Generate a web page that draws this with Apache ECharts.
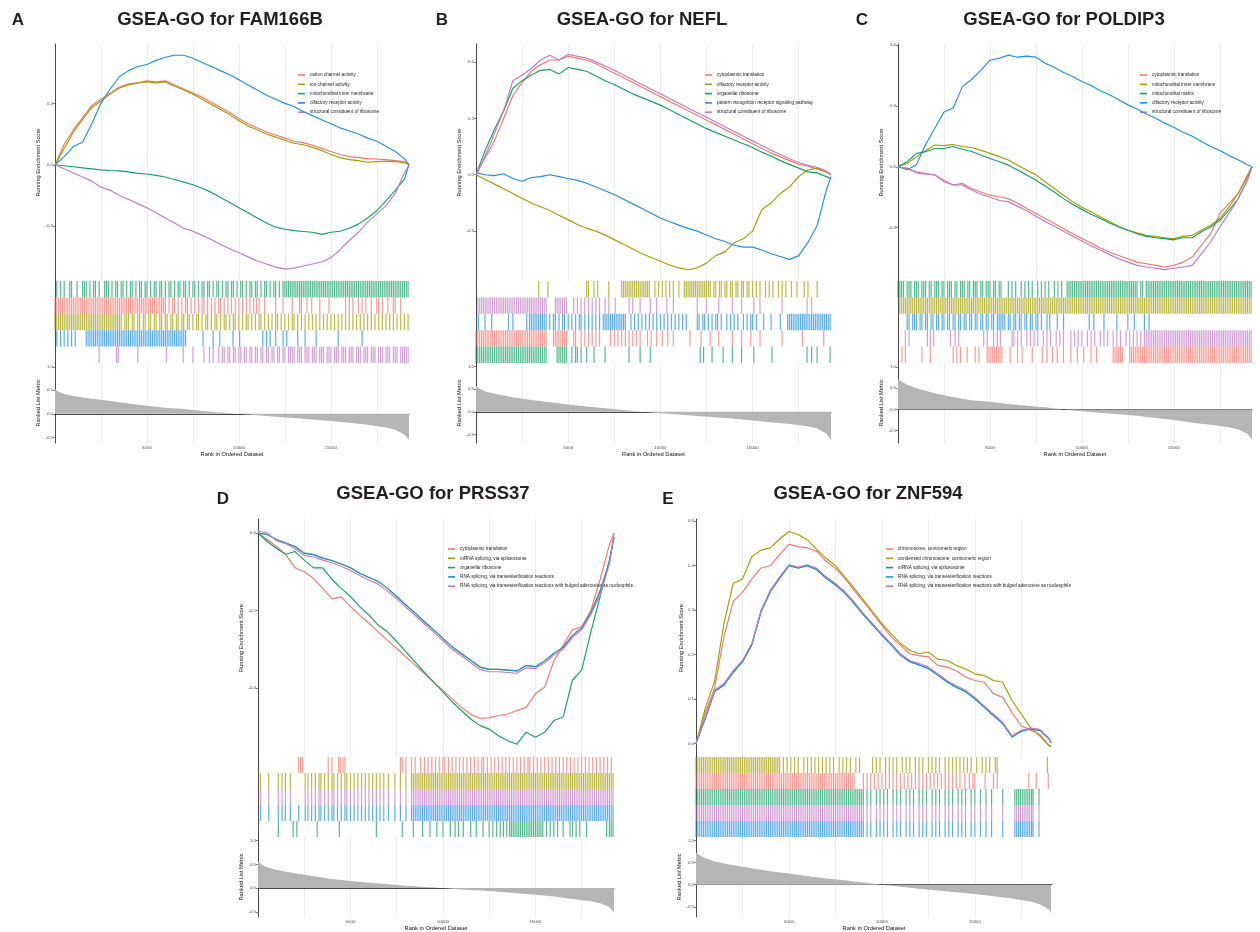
<!DOCTYPE html>
<html><head><meta charset="utf-8">
<script src="https://cdn.jsdelivr.net/npm/echarts@6/dist/echarts.min.js"></script>
<style>html,body{margin:0;padding:0;background:#fff}#c{width:1260px;height:932px}</style>
</head><body><div id="c"></div>
<script>
// ---------------- DATA ----------------
const RANKS = [0,500,1000,1500,2000,2500,3000,3500,4000,4500,5000,5500,6000,6500,7000,7500,8000,8500,9000,9500,10000,10500,11000,11500,12000,12500,13000,13500,14000,14500,15000,15500,16000,16500,17000,17500,18000,18500,19000,19250];
const RANKS_E = [0,500,1000,1500,2000,2500,3000,3500,4000,4500,5000,5500,6000,6500,7000,7500,8000,8500,9000,9500,10000,10500,11000,11500,12000,12500,13000,13500,14000,14500,15000,15500,16000,16500,17000,17500,18000,18500,19000,19100];
const M_RANKS = [0,250,500,1000,2000,3000,4000,5000,6000,7000,8000,9000,10000,11000,12000,13000,14000,15000,16000,17000,18000,18500,19000,19250];
const M_RANKS_E = [0,250,500,1000,2000,3000,4000,5000,6000,7000,8000,9000,10000,11000,12000,13000,14000,15000,16000,17000,18000,18500,19000,19100];
const HIT_UNIT = 100; // hit positions below are given in hundreds of ranks

const TITLES = ['GSEA-GO for FAM166B','GSEA-GO for NEFL','GSEA-GO for POLDIP3','GSEA-GO for PRSS37','GSEA-GO for ZNF594'];
const LETTERS = ['A','B','C','D','E'];
const X_LABELS = [5000,10000,15000];

// Panel A
const A_TERMS = ['cation channel activity','ion channel activity','mitochondrial inner membrane','olfactory receptor activity','structural constituent of ribosome'];
const A_ES_1 = [0,0.10,0.17,0.23,0.29,0.32,0.35,0.38,0.395,0.40, 0.41,0.405,0.41,0.39,0.37,0.35,0.33,0.305,0.28,0.255, 0.225,0.20,0.18,0.16,0.145,0.13,0.115,0.108,0.095,0.08, 0.065,0.05,0.04,0.035,0.03,0.028,0.025,0.02,0.015,0];
const A_ES_2 = [0,0.08,0.16,0.22,0.28,0.31,0.345,0.375,0.39,0.40, 0.405,0.40,0.405,0.385,0.365,0.345,0.32,0.295,0.27,0.245, 0.215,0.19,0.17,0.15,0.135,0.12,0.105,0.098,0.085,0.07, 0.05,0.035,0.025,0.02,0.012,0.015,0.018,0.015,0.01,0];
const A_ES_3 = [0,-0.005,-0.01,-0.015,-0.02,-0.025,-0.028,-0.03,-0.035,-0.042, -0.045,-0.052,-0.06,-0.072,-0.085,-0.098,-0.115,-0.135,-0.16,-0.185, -0.21,-0.235,-0.26,-0.285,-0.305,-0.315,-0.322,-0.326,-0.33,-0.34, -0.33,-0.325,-0.31,-0.29,-0.26,-0.225,-0.175,-0.125,-0.07,0];
const A_ES_4 = [0,0.04,0.09,0.11,0.20,0.30,0.37,0.43,0.46,0.48, 0.49,0.51,0.525,0.535,0.535,0.52,0.50,0.48,0.46,0.44, 0.415,0.39,0.365,0.34,0.32,0.30,0.285,0.26,0.24,0.22, 0.20,0.18,0.165,0.15,0.13,0.115,0.09,0.065,0.03,0];
const A_ES_5 = [0,-0.02,-0.04,-0.06,-0.08,-0.11,-0.125,-0.15,-0.17,-0.19, -0.21,-0.235,-0.26,-0.285,-0.31,-0.325,-0.345,-0.365,-0.39,-0.41, -0.43,-0.45,-0.47,-0.485,-0.5,-0.51,-0.505,-0.495,-0.485,-0.475, -0.455,-0.415,-0.37,-0.33,-0.28,-0.24,-0.2,-0.14,-0.04,0];
const A_METRIC = [0.52,0.46,0.42,0.38,0.32,0.27,0.22,0.17,0.13,0.10,0.06,0.03,0.0,-0.03,-0.06,-0.09,-0.12,-0.15,-0.19,-0.23,-0.29,-0.34,-0.44,-0.55];
const A_HIT_GREEN = [1,3,5,8,9,12,15,16,17,19,21,22,24,27,28,29,31,33,34,36,37,39,41,42,44,46,47,49,50,52,54,55,57,58,60,62,63,65,67,68,70,71,73,75,76,78,80,81,83,84,86,88,89,91,93,94,96,97,99,101,102,104,106,107,109,110,112,114,115,117,119,120,122,124,125,126,127,128,129,130,131,132,133,134,135,136,137,138,139,140,141,142,143,144,145,146,147,148,149,150,151,152,153,154,155,156,157,158,159,160,161,162,163,164,165,166,167,168,169,170,171,172,173,174,175,176,177,178,179,180,181,182,183,184,185,186,187,188,189,190,191,192];
const A_HIT_RED = [0,1,2,3,4,5,6,7,8,9,10,11,12,13,14,15,16,17,18,19,20,21,22,23,24,25,26,27,28,29,30,31,32,33,34,35,36,37,38,39,40,41,42,43,44,45,46,47,48,49,50,51,52,53,54,55,56,57,58,59,60,62,64,65,67,69,71,72,74,76,78,80,81,83,85,87,89,90,92,94,96,98,100,102,104,106,108,109.5,111,114,120,124,129,133,134,137,139.6,144,149,158,160,162,165,167,169,172,175,176,178,181,184,185,188];
const A_HIT_OLIVE = [0,1,2,3,4,5,6,7,8,9,10,11,12,13,14,15,16,17,18,19,20,21,22,23,24,25,26,27,28,29,30,31,32,33,34,35,36,38,39,40,42,43,45,46,48,49,51,52,54,55,57,58,60,61,63,64,66,67,69,70,72,73,75,77,78,80,82,83,85,87,88,90,92,93,95,97,98,100,102,104,105,107,109,111,112,114,116,118,120,121,123,125,127,129,130,132,134,136,138,140,142,144,146,148,150,152,154,156,158,160,162,164,166,168,170,172,174,176,178,180,182,184,186,188,190,192];
const A_HIT_BLUE = [1,3,5,7,9,11,17,18,19,20,21,22,23,24,25,26,27,28,29,30,31,32,33,34,35,36,37,38,39,40,41,42,43,44,45,46,47,48,49,50,51,52,53,54,55,56,57,58,59,60,61,62,63,64,65,66,67,68,69,70,71,80.5,86,89.6,96.8,100.4,113,115,117,120,124,126,132,136,142,154,167];
const A_HIT_PURPLE = [24,33.5,34.4,45,60.6,69.7,75,81,84,86,89,91,92,94,95,97,98,100,101,103,104,106,107,109,110,112,113,115,116,118,119,121,122,124,125,127,128,129,130,132,133,134,136,137,138,140,141,142,144,145,146,148,149,150,152,153,154,156,157,158,160,161,162,164,165,166,168,169,170,172,173,174,176,177,178,180,181,182,184,185,186,188,189,190,191,192];

// Panel B
const B_TERMS = ['cytoplasmic translation','olfactory receptor activity','organellar ribosome','pattern recognition receptor signaling pathway','structural constituent of ribosome'];
const B_ES_1 = [0,0.09,0.18,0.30,0.42,0.49,0.55,0.585,0.61,0.61, 0.63,0.62,0.61,0.59,0.565,0.54,0.515,0.49,0.465,0.44, 0.415,0.39,0.365,0.34,0.315,0.29,0.265,0.24,0.215,0.19, 0.165,0.14,0.115,0.095,0.075,0.055,0.045,0.03,0.015,0];
const B_ES_2 = [0,-0.025,-0.05,-0.075,-0.1,-0.125,-0.15,-0.17,-0.19,-0.215, -0.24,-0.265,-0.285,-0.30,-0.32,-0.345,-0.37,-0.395,-0.42,-0.44, -0.46,-0.48,-0.495,-0.505,-0.495,-0.47,-0.43,-0.41,-0.36,-0.34, -0.30,-0.185,-0.15,-0.10,-0.065,-0.01,0.025,0.035,0.015,0];
const B_ES_3 = [0,0.13,0.24,0.34,0.46,0.50,0.53,0.555,0.56,0.535, 0.57,0.56,0.55,0.525,0.50,0.48,0.455,0.43,0.41,0.39, 0.37,0.345,0.32,0.295,0.27,0.245,0.225,0.205,0.185,0.165, 0.145,0.12,0.10,0.075,0.055,0.035,0.015,0.01,-0.01,-0.02];
const B_ES_4 = [0.01,0.0,-0.005,0.005,-0.02,-0.035,-0.015,-0.01,0.0,-0.01, -0.02,-0.03,-0.045,-0.065,-0.085,-0.105,-0.13,-0.155,-0.18,-0.205, -0.23,-0.25,-0.268,-0.285,-0.30,-0.32,-0.34,-0.355,-0.375,-0.385, -0.385,-0.40,-0.42,-0.435,-0.45,-0.43,-0.36,-0.27,-0.08,-0.01];
const B_ES_5 = [0,0.10,0.22,0.34,0.50,0.53,0.565,0.61,0.635,0.61, 0.64,0.63,0.62,0.60,0.578,0.555,0.53,0.505,0.48,0.455, 0.43,0.405,0.38,0.355,0.33,0.305,0.28,0.255,0.23,0.205, 0.18,0.155,0.13,0.108,0.085,0.065,0.05,0.04,0.02,0];
const B_METRIC = [0.57,0.5,0.45,0.40,0.32,0.26,0.21,0.16,0.12,0.08,0.04,0.0,-0.03,-0.06,-0.09,-0.12,-0.155,-0.19,-0.23,-0.27,-0.32,-0.37,-0.48,-0.62];
const B_HIT_OLIVE = [34,39,60,61,64,66,72,79,80,81,82,83,84,85,86,87,88,89,90,91,92,93,94,97,99,101,103,105,107,110,113,114,115,116,117,118,119,120,121,122,123,124,125,126,127,129,130,132,133,135,136,138,139,141,142,144,145,147,148,150,152,154,157,159,161,164,166,168,171,174,178,180,185];
const B_HIT_PURPLE = [1,2,3,4,5,6,7,8,9,10,11,12,13,14,15,16,17,18,19,20,21,22,23,24,25,26,27,28,29,30,31,32,33,34,35,36,37,38,43,44,45,46,47,48,49,53,55,57,59,61,63,65,67,70,72,75.5,83,85,89,94.5,98,103.5,107,120,125,131.6,139,144,150.6,154,166,179.5,182];
const B_HIT_BLUE = [1.3,4.9,8.5,17.6,20,27.5,29,30,31,32,33,34,35,36,37,38,40,42,43,45,47,48,50,52,54,56,57,59,61,63,65,67,69,70,71,72,73,74,75,76,77,78,79,80,81,84,86,88,90,92,94,96,98,100,102,104,106,108,110,112,114,120,121,123,124,126,128,130,131,133,136,138,140,142,145,147,149,150,152,156,160,165,169,170,171,172,173,174,175,176,177,178,179,180,181,182,183,184,185,186,187,188,189,190,191,192];
const B_HIT_RED = [0,1,2,3,4,5,6,7,8,9,10,11,12,13,14,15,16,17,18,19,20,21,22,23,24,25,26,27,28,29,30,31,32,33,34,35,36,37,38,42,43,44,45,46,47,48,49,53,54,57,59,61,63,65,67,73,75,77,79,81,83,85,87,89,93,95,98,101,104,107,116,122,127,131.6,139,144,149,154,166,177,188.6];
const B_HIT_GREEN = [0,1,2,3,4,5,6,7,8,9,10,11,12,13,14,15,16,17,18,19,20,21,22,23,24,25,26,27,28,29,30,31,32,33,34,35,36,37,38,44,45,46,47,48,49,52,54,55,57,60,64,70,83,89,94.5,121.6,123.4,128,134,139,144,150.6,160.5,179.5,182,185,192];

// Panel C
const C_TERMS = ['cytoplasmic translation','mitochondrial inner membrane','mitochondrial matrix','olfactory receptor activity','structural constituent of ribosome'];
const C_ES_1 = [0,-0.008,-0.025,-0.033,-0.04,-0.066,-0.09,-0.082,-0.107,-0.124, -0.14,-0.148,-0.157,-0.18,-0.206,-0.23,-0.255,-0.28,-0.305,-0.33, -0.354,-0.376,-0.40,-0.42,-0.437,-0.453,-0.47,-0.478,-0.486,-0.494, -0.486,-0.47,-0.445,-0.387,-0.33,-0.23,-0.18,-0.132,-0.04,0];
const C_ES_2 = [0,0.016,0.05,0.08,0.107,0.104,0.11,0.10,0.095,0.082, 0.066,0.05,0.033,0.008,-0.016,-0.04,-0.074,-0.107,-0.14,-0.173, -0.2,-0.222,-0.247,-0.27,-0.293,-0.313,-0.326,-0.338,-0.343,-0.35, -0.354,-0.343,-0.338,-0.313,-0.288,-0.255,-0.198,-0.132,-0.05,0];
const C_ES_3 = [0,0.025,0.066,0.074,0.09,0.09,0.10,0.086,0.075,0.058, 0.041,0.025,0.008,-0.016,-0.04,-0.066,-0.095,-0.124,-0.157,-0.185, -0.21,-0.234,-0.255,-0.277,-0.297,-0.313,-0.33,-0.343,-0.35,-0.354, -0.36,-0.35,-0.35,-0.32,-0.297,-0.264,-0.214,-0.157,-0.066,0];
const C_ES_4 = [0,-0.015,0.01,0.11,0.19,0.27,0.29,0.395,0.43,0.475, 0.525,0.535,0.55,0.54,0.545,0.54,0.51,0.49,0.465,0.445, 0.42,0.40,0.375,0.355,0.33,0.305,0.285,0.26,0.24,0.215, 0.195,0.17,0.15,0.125,0.10,0.08,0.055,0.035,0.01,0];
const C_ES_5 = [0,-0.008,-0.03,-0.036,-0.04,-0.074,-0.09,-0.09,-0.115,-0.135, -0.15,-0.165,-0.173,-0.194,-0.217,-0.244,-0.27,-0.293,-0.318,-0.343, -0.366,-0.39,-0.41,-0.433,-0.453,-0.47,-0.486,-0.494,-0.50,-0.507, -0.50,-0.494,-0.486,-0.428,-0.37,-0.297,-0.23,-0.157,-0.066,0];
const C_METRIC = [0.72,0.64,0.58,0.50,0.38,0.29,0.22,0.18,0.13,0.09,0.05,0.0,-0.04,-0.08,-0.11,-0.15,-0.20,-0.25,-0.31,-0.36,-0.42,-0.47,-0.57,-0.70];
const C_HIT_GREEN = [0,1,2,3,5,6,7,9,10,11,13,14,15,17,18,20,21,22,24,25,27,28,29,31,32,34,35,36,38,39,41,42,43,45,46,48,49,50,52,53,55,56,60,62,64,67,69,71,73,76,78,80,82,85,87,89,92,93,94,95,96,97,98,99,100,101,102,103,104,105,106,107,108,109,110,111,112,113,114,115,116,117,118,119,120,121,122,123,124,125,126,127,128,129,130,132,133,135,136,137,138,139,140,141,142,143,144,145,146,147,148,149,150,151,152,153,154,155,156,157,158,159,160,161,162,163,164,165,166,167,168,169,170,171,172,173,174,175,176,177,178,179,180,181,182,183,184,185,186,187,188,189,190,191,192];
const C_HIT_OLIVE = [1,2,3,4,5,6,7,8,9,10,11,12,13,14,15,16,17,18,19,20,21,22,23,24,25,26,27,28,29,30,31,32,33,34,35,36,37,38,39,40,41,42,43,44,45,46,47,48,49,50,51,52,53,54,55,56,57,58,59,60,61,62,63,64,65,66,67,68,69,70,71,72,73,74,75,76,77,78,79,80,81,82,83,84,85,86,87,88,89,90,91,92,93,94,95,96,97,98,99,100,101,102,103,104,105,106,107,108,109,110,111,112,113,114,115,116,117,118,119,120,121,122,123,124,125,126,127,128,129,130,131,132,133,134,135,136,137,138,139,140,141,142,143,144,145,146,147,148,149,150,151,152,153,154,155,156,157,158,159,160,161,162,163,164,165,166,167,168,169,170,171,172,173,174,175,176,177,178,179,180,181,182,183,184,185,186,187,188,189,190,191,192];
const C_HIT_BLUE = [5,6,8,9,10,12,13,15,16,18,19,21,22,24,25,27,28,30,31,33,34,36,37,39,40,42,43,45,46,48,49,51,52,54,55,56,57,58,60,61,63,64,66,67,69,70,72,73,75,76,78,81,82.5,86.6,90,104,106.5,112,119,125,128.5,134,136.5];
const C_HIT_PURPLE = [4,6,16,17.6,19.4,28.5,31,33,46.6,48.5,52,54,55.7,62,63,65,67,70,72,74,76,79,81,83,86,88,90,94,96,98,100,103,105,107,110,112,114,117,119,121,124,126,128,130,132,134,135,136,137,138,139,140,141,142,143,144,145,146,147,148,149,150,151,152,153,154,155,156,157,158,159,160,161,162,163,164,165,166,167,168,169,170,171,172,173,174,175,176,177,178,179,180,181,182,183,184,185,186,187,188,189,190,191,192];
const C_HIT_RED = [2.2,4,13,17.6,30,32,34,37.6,42,44,48.5,49.5,50.5,51.5,52.5,53.5,54.5,55.5,56.5,61,65,67.5,73,78.4,81,84,86.6,90,94,97.5,101,105,108,117,118,119,120,121,122,126,127,128,129,130,131,132,133,134,135,136,137,138,139,140,141,142,143,144,145,146,147,148,149,150,151,152,153,154,155,156,157,158,159,160,161,162,163,164,165,166,167,168,169,170,171,172,173,174,175,176,177,178,179,180,181,182,183,184,185,186,187,188,189,190,191,192];

// Panel D
const D_TERMS = ['cytoplasmic translation','mRNA splicing, via spliceosome','organellar ribosome','RNA splicing, via transesterification reactions','RNA splicing, via transesterification reactions with bulged adenosine as nucleophile'];
const D_ES_1 = [0,-0.017,-0.035,-0.056,-0.09,-0.1,-0.117,-0.143,-0.17,-0.165, -0.19,-0.212,-0.233,-0.255,-0.277,-0.298,-0.32,-0.341,-0.363,-0.385, -0.406,-0.428,-0.45,-0.468,-0.478,-0.477,-0.471,-0.467,-0.458,-0.45, -0.415,-0.398,-0.33,-0.29,-0.25,-0.242,-0.2,-0.12,-0.03,0];
const D_ES_2 = [0,-0.004,-0.017,-0.026,-0.035,-0.052,-0.056,-0.065,-0.071,-0.08, -0.09,-0.104,-0.115,-0.125,-0.143,-0.164,-0.186,-0.207,-0.229,-0.25, -0.272,-0.294,-0.311,-0.328,-0.346,-0.352,-0.352,-0.354,-0.356,-0.342, -0.345,-0.33,-0.31,-0.295,-0.265,-0.245,-0.205,-0.15,-0.075,-0.01];
const D_ES_3 = [0,-0.022,-0.04,-0.055,-0.048,-0.07,-0.09,-0.09,-0.12,-0.143, -0.164,-0.19,-0.212,-0.238,-0.255,-0.28,-0.307,-0.333,-0.36,-0.385, -0.41,-0.436,-0.458,-0.48,-0.497,-0.506,-0.523,-0.536,-0.545,-0.514, -0.527,-0.514,-0.484,-0.475,-0.38,-0.354,-0.255,-0.164,-0.07,-0.01];
const D_ES_4 = [0,-0.004,-0.017,-0.026,-0.035,-0.052,-0.056,-0.065,-0.071,-0.08, -0.09,-0.104,-0.115,-0.125,-0.143,-0.164,-0.186,-0.207,-0.229,-0.25, -0.272,-0.294,-0.311,-0.328,-0.346,-0.352,-0.352,-0.354,-0.356,-0.342, -0.345,-0.33,-0.31,-0.295,-0.265,-0.245,-0.205,-0.15,-0.075,-0.01];
const D_ES_5 = [0.005,0.0,-0.02,-0.028,-0.04,-0.058,-0.062,-0.07,-0.077,-0.086, -0.097,-0.11,-0.122,-0.132,-0.15,-0.17,-0.192,-0.213,-0.235,-0.256, -0.278,-0.30,-0.317,-0.334,-0.352,-0.358,-0.358,-0.36,-0.362,-0.348, -0.35,-0.335,-0.315,-0.30,-0.27,-0.25,-0.21,-0.16,-0.08,0.0];
const D_METRIC = [0.56,0.48,0.44,0.38,0.31,0.25,0.19,0.15,0.11,0.08,0.05,0.02,0.0,-0.03,-0.05,-0.08,-0.11,-0.14,-0.18,-0.23,-0.28,-0.32,-0.40,-0.52];
const D_HIT_RED = [22,23,24,38,40,43.6,44.5,46,47,77,78,80,83,85,88,90,92,94,96,98,100,101,103,105,107,109,111,113,115,117,119,121,122,124,126,128,130,132,134,136,138,140,142,144,146,147,149,151,153,155,157,159,161,163,165,167,169,171,173,175,177,179,181,183,185,187,189,191];
const D_HIT_OLIVE = [1.3,5.8,11,13,14.8,17.5,25.5,27,29,31,33,34,36,38,40,41,43,45,47,48,50,52,54,56,58,60,62,64,66,68,70.5,74,77,80,83,84,85,86,87,88,89,90,91,92,93,94,95,96,97,98,99,100,101,102,103,104,105,106,107,108,109,110,111,112,113,114,115,116,117,118,119,120,121,122,123,124,125,126,127,128,129,130,131,132,133,134,135,136,137,138,139,140,141,142,143,144,145,146,147,148,149,150,151,152,153,154,155,156,157,158,159,160,161,162,163,164,165,166,167,168,169,170,171,172,173,174,175,176,177,178,179,180,181,182,183,184,185,186,187,188,189,190,191,192];
const D_HIT_PURPLE = [1.3,5.8,11,13,14.8,17.5,25.5,27,29,31,33,34,36,38,40,41,43,45,47,48,50,52,54,56,58,60,62,64,66,68,70.5,74,77,80,83,84,85,86,87,88,89,90,91,92,93,94,95,96,97,98,99,100,101,102,103,104,105,106,107,108,109,110,111,112,113,114,115,116,117,118,119,120,121,122,123,124,125,126,127,128,129,130,131,132,133,134,135,136,137,138,139,140,141,142,143,144,145,146,147,148,149,150,151,152,153,154,155,156,157,158,159,160,161,162,163,164,165,166,167,168,169,170,171,172,173,174,175,176,177,178,179,180,181,182,183,184,185,186,187,188,189,190,191,192];
const D_HIT_BLUE = [1.3,5.8,11,13,14.8,17.5,22,25.5,27,29,31,33,34,36,38,40,41,43,45,47,48,50,52,54,56,58,60,62,64,66,68,70.5,74,77,80,83,84,85,86,87,88,89,90,91,92,93,94,95,96,97,98,99,100,101,102,103,104,105,106,107,108,109,110,111,112,113,114,115,116,117,118,119,120,121,122,123,124,125,126,127,128,129,130,131,132,133,134,135,136,137,138,139,140,141,142,143,144,145,146,147,148,149,150,151,152,153,154,155,156,157,158,159,160,161,162,163,164,165,166,167,168,169,170,171,172,173,174,175,176,177,178,179,180,181,182,183,184,185,186,187,188,189,190,191,192];
const D_HIT_GREEN = [11,19,21,32,44,64,78,84,89,93,96.7,100,104,106.6,108.4,111,115,118,121.7,125,127,129,131,132.7,134.5,136,137,138,139,140,141,142,143,144,145,146,147,148,149,150,151,152,153,154,156,158,160,162,165,168.7,170,172,174,177.7,188.5,190,191,192];

// Panel E
const E_TERMS = ['chromosome, centromeric region','condensed chromosome, centromeric region','mRNA splicing, via spliceosome','RNA splicing, via transesterification reactions','RNA splicing, via transesterification reactions with bulged adenosine as nucleophile'];
const E_ES_1 = [0,0.07,0.125,0.24,0.32,0.34,0.37,0.395,0.40,0.425, 0.448,0.443,0.44,0.432,0.41,0.394,0.372,0.345,0.319,0.293, 0.266,0.24,0.221,0.202,0.198,0.195,0.176,0.172,0.164,0.15, 0.142,0.138,0.112,0.104,0.07,0.04,0.03,0.021,-0.005,-0.005];
const E_ES_2 = [0,0.08,0.14,0.27,0.36,0.37,0.42,0.435,0.44,0.46, 0.477,0.47,0.458,0.436,0.417,0.40,0.375,0.35,0.323,0.296, 0.27,0.247,0.225,0.21,0.202,0.206,0.19,0.187,0.176,0.168, 0.157,0.153,0.142,0.138,0.097,0.066,0.036,0.017,-0.005,-0.005];
const E_ES_3 = [0,0.057,0.117,0.132,0.16,0.184,0.222,0.297,0.342,0.372, 0.4,0.395,0.4,0.391,0.372,0.357,0.339,0.316,0.29,0.267, 0.244,0.222,0.199,0.184,0.177,0.169,0.154,0.139,0.127,0.117, 0.101,0.082,0.063,0.045,0.015,0.028,0.033,0.03,0.01,0.002];
const E_ES_4 = [0,0.057,0.117,0.132,0.16,0.184,0.222,0.297,0.342,0.372, 0.4,0.395,0.4,0.391,0.372,0.357,0.339,0.316,0.29,0.267, 0.244,0.222,0.199,0.184,0.177,0.169,0.154,0.139,0.127,0.117, 0.101,0.082,0.063,0.045,0.015,0.028,0.033,0.03,0.01,0.002];
const E_ES_5 = [0,0.06,0.12,0.135,0.164,0.187,0.225,0.30,0.345,0.375, 0.402,0.397,0.402,0.394,0.375,0.36,0.342,0.319,0.293,0.27, 0.247,0.225,0.202,0.187,0.18,0.172,0.157,0.142,0.13,0.12, 0.104,0.085,0.066,0.048,0.017,0.03,0.035,0.032,0.012,0.003];
const E_METRIC = [0.72,0.65,0.6,0.52,0.44,0.37,0.30,0.25,0.19,0.14,0.10,0.05,0.0,-0.05,-0.09,-0.13,-0.17,-0.21,-0.26,-0.31,-0.38,-0.44,-0.56,-0.65];
const E_HIT_OLIVE = [0,1,2,3,4,5,6,7,8,9,10,11,12,13,14,15,16,17,18,19,20,21,22,23,24,25,26,27,28,29,30,31,32,33,34,35,36,37,38,39,40,41,42,43,44,45,47,49,51,53,55,58,60,62,64,66,68,70,72,74,77,79,81,83,86,88,95,97,99,102,104,106,108,111,113,115,118,120,122,125,127,129,131,134,136,138,140,142,144,146,148,151,154,156,158,161,162,189];
const E_HIT_RED = [0,1,2,3,4,5,6,7,8,9,10,11,12,13,14,15,16,17,18,19,20,21,22,23,24,25,26,27,28,29,30,31,32,33,34,35,36,37,38,39,40,41,42,43,44,45,46,47,48,49,50,51,52,53,54,55,56,57,58,59,60,61,62,63,64,65,66,67,68,69,70,71,72,73,74,75,76,77,78,79,80,81,82,83,84,85,90,92,94,96,98,100,102,104,106,108,110,112,114,116,118,120,122,124,126,128,130,132,134,136,138,140,142,144.6,147,149,150,155.5,160,162,179,183,189.5];
const E_HIT_GREEN = [0,1,2,3,4,5,6,7,8,9,10,11,12,13,14,15,16,17,18,19,20,21,22,23,24,25,26,27,28,29,30,31,32,33,34,35,36,37,38,39,40,41,42,43,44,45,46,47,48,49,50,51,52,53,54,55,56,57,58,59,60,61,62,63,64,65,66,67,68,69,70,71,72,73,74,75,76,77,78,79,80,81,82,83,84,85,86,87,88,89,90,92,94,97,99,101,103,106,108,110,113,115,117,120,122,124,127,129,131,134,136,138,141,143,145,148,150,153,156,159,165,171.5,172.5,173.5,174.5,175.5,176.5,177.5,178.5,179.5,180.5,181.3,184.5];
const E_HIT_PURPLE = [0,1,2,3,4,5,6,7,8,9,10,11,12,13,14,15,16,17,18,19,20,21,22,23,24,25,26,27,28,29,30,31,32,33,34,35,36,37,38,39,40,41,42,43,44,45,46,47,48,49,50,51,52,53,54,55,56,57,58,59,60,61,62,63,64,65,66,67,68,69,70,71,72,73,74,75,76,77,78,79,80,81,82,83,84,85,86,87,88,89,90,92,94,97,99,101,103,106,108,110,113,115,117,120,122,124,127,129,131,134,136,138,141,143,145,148,150,153,156,159,165,171.5,172.5,173.5,174.5,175.5,176.5,177.5,178.5,179.5,180.5,181.3,184.5];
const E_HIT_BLUE = [0,1,2,3,4,5,6,7,8,9,10,11,12,13,14,15,16,17,18,19,20,21,22,23,24,25,26,27,28,29,30,31,32,33,34,35,36,37,38,39,40,41,42,43,44,45,46,47,48,49,50,51,52,53,54,55,56,57,58,59,60,61,62,63,64,65,66,67,68,69,70,71,72,73,74,75,76,77,78,79,80,81,82,83,84,85,86,87,88,89,90,92,94,97,99,101,103,106,108,110,113,115,117,120,122,124,127,129,131,134,136,138,141,143,145,148,150,153,156,159,165,171.5,172.5,173.5,174.5,175.5,176.5,177.5,178.5,179.5,180.5,181.3,184.5];

// ---------------- STYLE / LAYOUT ----------------
const COLORS = ['#F3776E','#A39E00','#14A064','#1F8FE2','#C07BC4']; // term order: 1..5
const FONT = '"Liberation Sans", Arial, Helvetica, sans-serif';

const PANELS = [
  {es:[A_ES_1,A_ES_2,A_ES_3,A_ES_4,A_ES_5], terms:A_TERMS, ranks:RANKS, metric:A_METRIC, mRanks:M_RANKS, n:19250,
   rows:[[2,A_HIT_GREEN],[0,A_HIT_RED],[1,A_HIT_OLIVE],[3,A_HIT_BLUE],[4,A_HIT_PURPLE]],
   esRange:[-0.568,0.59], esTicks:[-0.3,0,0.3], mRange:[-0.62,1.08]},
  {es:[B_ES_1,B_ES_2,B_ES_3,B_ES_4,B_ES_5], terms:B_TERMS, ranks:RANKS, metric:B_METRIC, mRanks:M_RANKS, n:19250,
   rows:[[1,B_HIT_OLIVE],[4,B_HIT_PURPLE],[3,B_HIT_BLUE],[0,B_HIT_RED],[2,B_HIT_GREEN]],
   esRange:[-0.565,0.695], esTicks:[-0.3,0,0.3,0.6], mRange:[-0.69,1.08]},
  {es:[C_ES_1,C_ES_2,C_ES_3,C_ES_4,C_ES_5], terms:C_TERMS, ranks:RANKS, metric:C_METRIC, mRanks:M_RANKS, n:19250,
   rows:[[2,C_HIT_GREEN],[1,C_HIT_OLIVE],[3,C_HIT_BLUE],[4,C_HIT_PURPLE],[0,C_HIT_RED]],
   esRange:[-0.563,0.605], esTicks:[-0.3,0,0.3,0.6], mRange:[-0.79,1.095]},
  {es:[D_ES_1,D_ES_2,D_ES_3,D_ES_4,D_ES_5], terms:D_TERMS, ranks:RANKS, metric:D_METRIC, mRanks:M_RANKS, n:19250,
   rows:[[0,D_HIT_RED],[1,D_HIT_OLIVE],[4,D_HIT_PURPLE],[3,D_HIT_BLUE],[2,D_HIT_GREEN]],
   esRange:[-0.578,0.036], esTicks:[-0.4,-0.2,0], mRange:[-0.61,1.077]},
  {es:[E_ES_1,E_ES_2,E_ES_3,E_ES_4,E_ES_5], terms:E_TERMS, ranks:RANKS_E, metric:E_METRIC, mRanks:M_RANKS_E, n:19150,
   rows:[[1,E_HIT_OLIVE],[0,E_HIT_RED],[2,E_HIT_GREEN],[4,E_HIT_PURPLE],[3,E_HIT_BLUE]],
   esRange:[-0.03,0.505], esTicks:[0,0.1,0.2,0.3,0.4,0.5], mRange:[-0.73,1.075]}
];
const LAYOUT = [
  {left:55, width:354, esTop:44, esH:237, barTop:281, barH:82, mTop:363, mH:80, titleX:220, titleY:10, letterX:18, letterY:12, legL:298, legT:71.5, yGap:13},
  {left:476, width:355, esTop:44, esH:237, barTop:281, barH:82, mTop:363, mH:80, titleX:642, titleY:10, letterX:442, letterY:12, legL:705, legT:71.5, yGap:13},
  {left:898, width:354, esTop:44, esH:237, barTop:281, barH:82, mTop:363, mH:80, titleX:1064, titleY:10, letterX:862, letterY:12, legL:1140, legT:71.5, yGap:13},
  {left:258, width:356, esTop:519, esH:238, barTop:757, barH:80, mTop:837, mH:81, titleX:433, titleY:484, letterX:223, letterY:491, legL:448, legT:545.5, yGap:13},
  {left:696, width:356, esTop:519, esH:238, barTop:757, barH:80, mTop:837, mH:81, titleX:868, titleY:484, letterX:668, letterY:491, legL:886, legT:545.5, yGap:10}
];

// ---------------- BUILD ----------------
const grid = [], xAxis = [], yAxis = [], series = [], legend = [], graphic = [];
const tickLbl = {fontSize:4.4, color:'#4D4D4D', fontFamily:FONT};
const axisLn = {show:true, lineStyle:{color:'#1a1a1a', width:0.8}};
const nameSty = {fontSize:5.7, color:'#111', fontFamily:FONT};
const gridLn = {show:true, showMinLine:false, showMaxLine:false, lineStyle:{color:'#EBEBEB', width:0.9}};

PANELS.forEach((p, pi) => {
  const L = LAYOUT[pi];
  const key = LETTERS[pi];
  const g0 = grid.length;
  grid.push({left:L.left, top:L.esTop, width:L.width, height:L.esH});
  grid.push({left:L.left, top:L.barTop, width:L.width, height:L.barH});
  grid.push({left:L.left, top:L.mTop, width:L.width, height:L.mH});
  for (let k = 0; k < 3; k++) {
    xAxis.push({gridIndex:g0+k, type:'value', min:0, max:p.n, interval:2500,
      axisLine: k===2 ? axisLn : {show:false}, axisTick:{show:false},
      axisLabel: k===2 ? Object.assign({show:true, margin:3, formatter:v => X_LABELS.includes(v) ? String(v) : ''}, tickLbl) : {show:false},
      splitLine: k===1 ? {show:false} : gridLn,
      name: k===2 ? 'Rank in Ordered Dataset' : '', nameLocation:'middle', nameGap:8, nameTextStyle:nameSty});
  }
  yAxis.push({gridIndex:g0, type:'value', min:p.esRange[0], max:p.esRange[1], axisLine:axisLn,
    axisTick:{show:true, customValues:p.esTicks, length:2, lineStyle:{color:'#333', width:0.6}},
    axisLabel:Object.assign({customValues:p.esTicks, margin:2, formatter:v => v.toFixed(1)}, tickLbl),
    splitLine:{show:false}, name:'Running Enrichment Score', nameLocation:'middle', nameGap:L.yGap, nameTextStyle:nameSty});
  yAxis.push({gridIndex:g0+1, type:'value', min:0, max:5, inverse:true, axisLine:axisLn,
    axisTick:{show:false}, axisLabel:{show:false}, splitLine:{show:false}});
  yAxis.push({gridIndex:g0+2, type:'value', min:p.mRange[0], max:p.mRange[1], axisLine:axisLn,
    axisTick:{show:true, customValues:[-0.5,0,0.5,1], length:2, lineStyle:{color:'#333', width:0.6}},
    axisLabel:Object.assign({customValues:[-0.5,0,0.5,1], margin:2, formatter:v => v.toFixed(1)}, tickLbl),
    splitLine:{show:false}, name:'Ranked List Metric', nameLocation:'middle', nameGap:L.yGap, nameTextStyle:nameSty});

  // running enrichment score lines
  p.es.forEach((vals, ti) => {
    series.push({type:'line', name:key+'|'+p.terms[ti], xAxisIndex:g0, yAxisIndex:g0,
      data:p.ranks.map((r, k) => [r, vals[k]]), showSymbol:false, symbol:'none',
      lineStyle:{color:COLORS[ti], width:1.15}, itemStyle:{color:COLORS[ti]}, z:2+ti, animation:false});
  });
  // hit barcode rows
  p.rows.forEach((row, ri) => {
    const col = COLORS[row[0]];
    series.push({type:'custom', xAxisIndex:g0+1, yAxisIndex:g0+1, silent:true, animation:false,
      data:row[1].map(h => [h*HIT_UNIT, ri]),
      renderItem:(params, api) => {
        const a = api.coord([api.value(0), api.value(1)]);
        const b = api.coord([api.value(0), api.value(1)+1]);
        return {type:'rect', shape:{x:a[0]-0.6, y:Math.min(a[1],b[1]), width:1.2, height:Math.abs(b[1]-a[1])},
          style:{fill:col, opacity:0.72}};
      }});
  });
  // ranked list metric
  series.push({type:'line', xAxisIndex:g0+2, yAxisIndex:g0+2, silent:true, animation:false,
    data:p.mRanks.map((r, k) => [r, p.metric[k]]), showSymbol:false, symbol:'none',
    lineStyle:{width:0}, areaStyle:{color:'#B5B5B5', opacity:1, origin:0}});

  legend.push({data:p.terms.map(t => key+'|'+t), left:L.legL, top:L.legT, orient:'vertical', icon:'rect',
    itemWidth:7, itemHeight:1.6, itemGap:2.3, padding:0, selectedMode:false,
    formatter:n => n.split('|')[1], textStyle:{fontSize:4.7, lineHeight:7, color:'#222', fontFamily:FONT}});

  graphic.push({type:'text', x:L.titleX, y:L.titleY, silent:true,
    style:{text:TITLES[pi], font:'bold 18.5px '+FONT, fill:'#231F20', align:'center', verticalAlign:'top'}});
  graphic.push({type:'text', x:L.letterX, y:L.letterY, silent:true,
    style:{text:key, font:'bold 17px '+FONT, fill:'#231F20', align:'center', verticalAlign:'top'}});
});

const chart = echarts.init(document.getElementById('c'), null, {renderer:'canvas'});
chart.setOption({animation:false, backgroundColor:'#fff', grid, xAxis, yAxis, series, legend, graphic});
</script></body></html>
